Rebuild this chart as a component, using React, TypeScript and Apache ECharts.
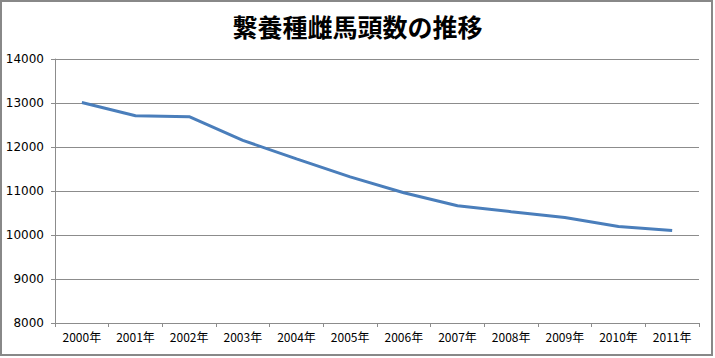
import React, { useEffect, useRef } from "react";
import * as echarts from "echarts";

const title = "繋養種雌馬頭数の推移";
const categories = ["2000年", "2001年", "2002年", "2003年", "2004年", "2005年", "2006年", "2007年", "2008年", "2009年", "2010年", "2011年"];
const mares = [13010, 12710, 12690, 12150, 11730, 11320, 10960, 10665, 10530, 10400, 10195, 10105];
const yMin = 8000;
const yMax = 14000;
const yStep = 1000;

export default function App() {
  const ref = useRef<HTMLDivElement>(null);
  useEffect(() => {
    if (!ref.current) return;
    const chart = echarts.init(ref.current, undefined, { renderer: "svg" });
    chart.setOption({
      animation: false,
      backgroundColor: "#ffffff",
      title: {
        text: title,
        left: "center",
        top: 8,
        textStyle: {
          fontFamily: "Noto Sans CJK JP",
          fontWeight: "bold",
          fontSize: 25,
          color: "#000000",
        },
      },
      graphic: {
        elements: [
          {
            type: "rect",
            silent: true,
            z: 100,
            shape: { x: 1, y: 1, width: 711, height: 354 },
            style: { fill: "transparent", stroke: "#888888", lineWidth: 2 },
          },
        ],
      },
      grid: { left: 55, right: 16, top: 59, bottom: 35, containLabel: false },
      xAxis: {
        type: "category",
        data: categories,
        boundaryGap: true,
        axisLine: { lineStyle: { color: "#8c8c8c", width: 1 } },
        axisTick: { show: true, length: 4, lineStyle: { color: "#8c8c8c" } },
        axisLabel: {
          color: "#000000",
          fontSize: 12,
          fontFamily: "Noto Sans CJK JP",
          margin: 7,
          interval: 0,
        },
      },
      yAxis: {
        type: "value",
        min: yMin,
        max: yMax,
        interval: yStep,
        axisLine: { show: true, lineStyle: { color: "#8c8c8c", width: 1 } },
        axisTick: { show: true, length: 4, lineStyle: { color: "#8c8c8c" } },
        axisLabel: {
          color: "#000000",
          fontSize: 12,
          fontFamily: "DejaVu Sans",
          margin: 11,
          formatter: (v: number) => String(v),
        },
        splitLine: { show: true, lineStyle: { color: "#8c8c8c", width: 1 } },
      },
      series: [
        {
          type: "line",
          data: mares,
          symbol: "none",
          lineStyle: { color: "#4a7ebb", width: 3 },
        },
      ],
    });
    return () => chart.dispose();
  }, []);
  return (
    <div
      ref={ref}
      style={{ position: "absolute", left: 0, top: 0, width: 715, height: 358 }}
    />
  );
}
